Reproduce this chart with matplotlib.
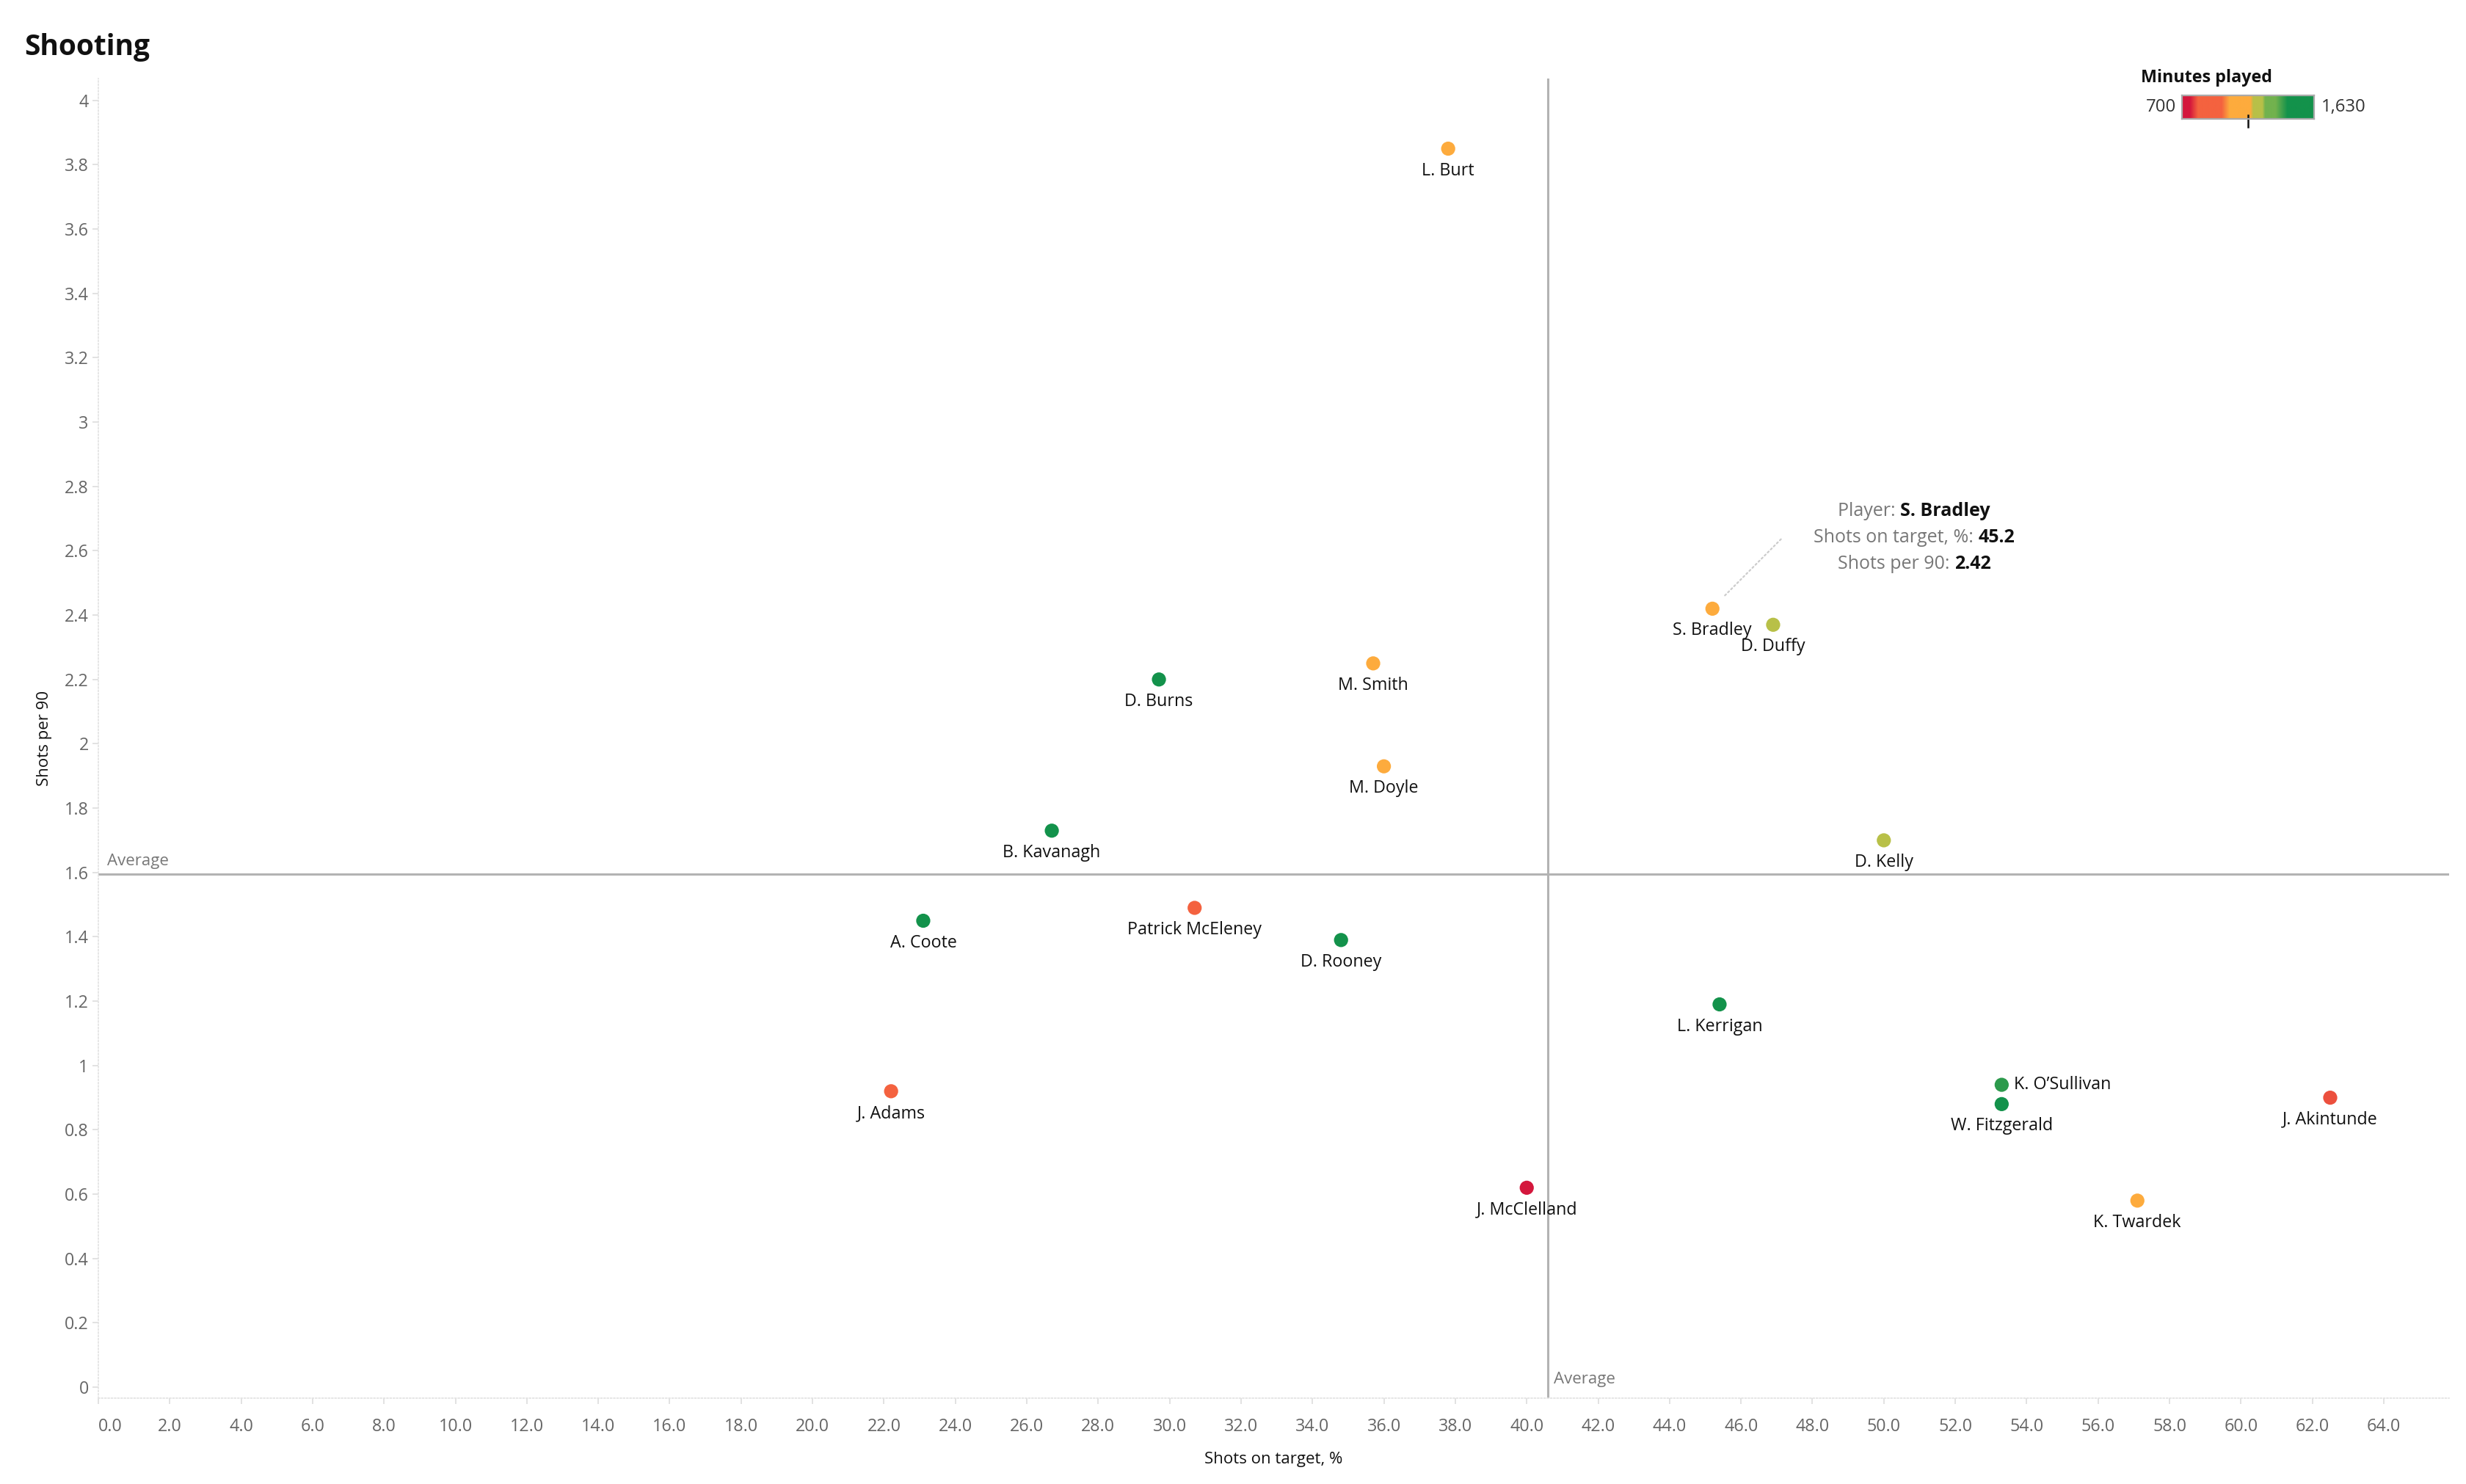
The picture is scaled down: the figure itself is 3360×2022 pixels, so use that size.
import numpy as np
import matplotlib

matplotlib.use("Agg")
import matplotlib.pyplot as plt
from matplotlib.colors import LinearSegmentedColormap, Normalize

plt.rcParams["font.family"] = ["Open Sans", "DejaVu Sans"]

# data
players = ["L. Burt", "S. Bradley", "D. Duffy", "M. Smith", "D. Burns", "M. Doyle",
           "B. Kavanagh", "D. Kelly", "Patrick McEleney", "A. Coote", "D. Rooney",
           "L. Kerrigan", "J. Adams", "K. O\u2019Sullivan", "W. Fitzgerald",
           "J. Akintunde", "J. McClelland", "K. Twardek"]
shots_on_target = [37.8, 45.2, 46.9, 35.7, 29.7, 36.0, 26.7, 50.0, 30.7, 23.1, 34.8,
                   45.4, 22.2, 53.3, 53.3, 62.5, 40.0, 57.1]
shots_per_90 = [3.85, 2.42, 2.37, 2.25, 2.20, 1.93, 1.73, 1.70, 1.49, 1.45, 1.39,
                1.19, 0.92, 0.94, 0.88, 0.90, 0.62, 0.58]
minutes = [1120, 1120, 1220, 1120, 1560, 1120, 1560, 1230, 880, 1560, 1560,
           1560, 880, 1420, 1560, 800, 720, 1120]
avg_x = 40.6
avg_y = 1.595
min_minutes, max_minutes = 700, 1630

# stepped red-gold-green palette like the legend
stops = [(0.00, "#d4173c"), (0.06, "#d4173c"), (0.12, "#f4623f"), (0.30, "#f4623f"),
         (0.36, "#fdab3d"), (0.52, "#fdab3d"), (0.54, "#b8c048"), (0.61, "#b8c048"),
         (0.63, "#72b24e"), (0.71, "#72b24e"), (0.80, "#13924b"), (1.00, "#13924b")]
cmap = LinearSegmentedColormap.from_list("rgg", stops)
norm = Normalize(min_minutes, max_minutes)

W, H = 3360, 2022
fig = plt.figure(figsize=(W / 200, H / 200), dpi=200)
ax = fig.add_axes([134 / W, 1 - 1905 / H, (3337 - 134) / W, (1905 - 107) / H])

ax.scatter(shots_on_target, shots_per_90, s=48, c=minutes, cmap=cmap, norm=norm,
           linewidths=0, zorder=3)

for name, x, y in zip(players, shots_on_target, shots_per_90):
    if name.startswith("K. O"):
        ax.annotate(name, (x, y), xytext=(6, 0), textcoords="offset points",
                    ha="left", va="center", fontsize=8.4, color="#111111")
    else:
        ax.annotate(name, (x, y), xytext=(0, -6.5), textcoords="offset points",
                    ha="center", va="top", fontsize=8.4, color="#111111")

# reference lines
ax.axvline(avg_x, color="#b3b3b3", lw=1.1, zorder=2)
ax.axhline(avg_y, color="#b3b3b3", lw=1.1, zorder=2)
ax.text(avg_x + 0.15, 0.0, "Average", fontsize=8, color="#777777", ha="left", va="bottom")
ax.text(0.25, avg_y + 0.015, "Average", fontsize=8, color="#777777", ha="left", va="bottom")

ax.set_xlim(0, 65.83)
ax.set_ylim(-0.034, 4.068)
ax.set_xticks(np.arange(0, 65, 2))
ax.set_xticklabels([f"{v:.1f}" for v in np.arange(0, 65, 2)])
ax.get_xticklabels()[0].set_horizontalalignment("left")
yt = np.round(np.arange(0, 4.01, 0.2), 1)
ax.set_yticks(yt)
ax.set_yticklabels([f"{v:g}" for v in yt])
ax.tick_params(axis="both", labelsize=8.4, labelcolor="#666666", color="#dddddd",
               length=2.8, width=0.6)
ax.tick_params(axis="x", pad=7)
ax.tick_params(axis="y", pad=2)

for side in ["top", "right"]:
    ax.spines[side].set_visible(False)
for side in ["left", "bottom"]:
    ax.spines[side].set_color("#e2e2e2")
    ax.spines[side].set_linewidth(0.6)
    ax.spines[side].set_linestyle(":")

ax.set_xlabel("Shots on target, %", fontsize=8, color="#111111", labelpad=8)
ax.set_ylabel("Shots per 90", fontsize=8, color="#111111", labelpad=6)

# tooltip style annotation for S. Bradley
bx, by = shots_on_target[1], shots_per_90[1]
ax.annotate("", xy=(bx + 0.25, by + 0.03), xytext=(bx + 2.0, by + 0.225),
            arrowprops=dict(arrowstyle="-", color="#cccccc", lw=0.8, linestyle=":"))
tip_x = 50.85
tip_rows = [("Player: ", "S. Bradley", 2.724), ("Shots on target, %: ", "45.2", 2.641),
            ("Shots per 90: ", "2.42", 2.558)]
fig.canvas.draw()
r = fig.canvas.get_renderer()
inv = ax.transData.inverted()
for lab, val, ty in tip_rows:
    t1 = ax.text(0, ty, lab, fontsize=9, color="#777777", va="center")
    t2 = ax.text(0, ty, val, fontsize=9, color="#111111", weight="bold", va="center")
    w1 = t1.get_window_extent(r).width
    w2 = t2.get_window_extent(r).width
    px_center = ax.transData.transform((tip_x, ty))[0]
    left = px_center - (w1 + w2) / 2
    t1.set_x(inv.transform((left, 0))[0])
    t2.set_x(inv.transform((left + w1, 0))[0])

fig.text(33 / W, 1 - 75 / H, "Shooting", fontsize=14, weight="bold", color="#111111",
         ha="left", va="baseline")

# colour legend
cax = fig.add_axes([2973 / W, 1 - 162 / H, 180 / W, 32 / H])
cax.imshow(np.linspace(0, 1, 256)[None, :], aspect="auto", cmap=cmap,
           extent=(0, 1, 0, 1))
cax.set_xticks([])
cax.set_yticks([])
for s in cax.spines.values():
    s.set_color("#aaaaaa")
    s.set_linewidth(0.8)
cax.plot([0.5, 0.5], [-0.35, 0.15], color="#111111", lw=0.9, clip_on=False)
cax.set_xlim(0, 1)
cax.set_ylim(0, 1)
fig.text(2917 / W, 1 - 112 / H, "Minutes played", fontsize=8.4, weight="bold",
         color="#111111", ha="left", va="baseline")
fig.text(2965 / W, 1 - 146 / H, f"{min_minutes}", fontsize=8.6, color="#333333",
         ha="right", va="center")
fig.text(3163 / W, 1 - 146 / H, f"{max_minutes:,}", fontsize=8.6, color="#333333",
         ha="left", va="center")

fig.savefig("out.png", dpi=200, facecolor="white")
